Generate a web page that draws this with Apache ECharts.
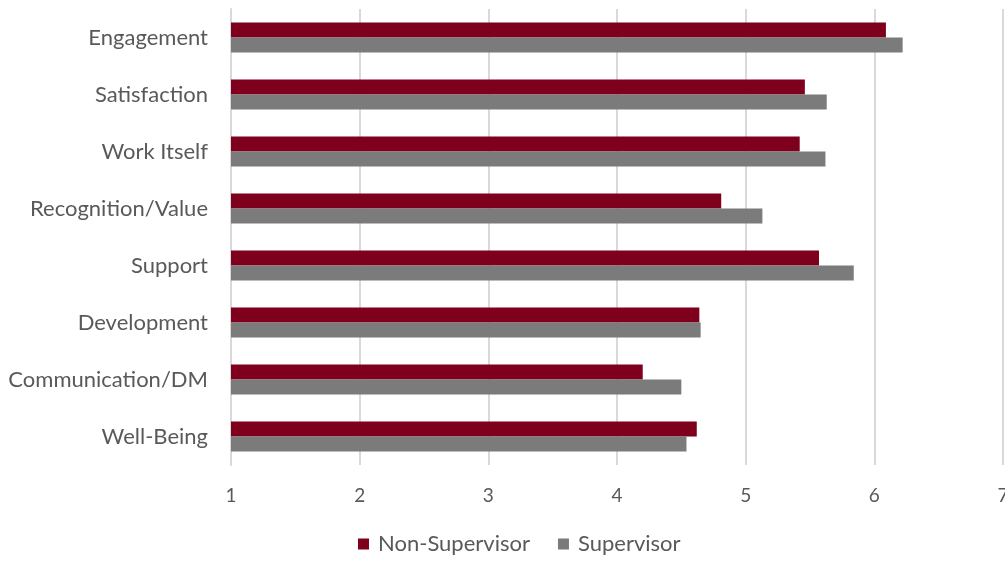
<!DOCTYPE html>
<html>
<head>
<meta charset="utf-8">
<script src="https://cdn.jsdelivr.net/npm/echarts@6/dist/echarts.min.js"></script>
<style>
  html, body { margin: 0; padding: 0; background: #fff; }
  #chart { width: 1005px; height: 562px; }
</style>
</head>
<body>
<div id="chart"></div>
<script>
var categories = ['Engagement', 'Satisfaction', 'Work Itself', 'Recognition/Value', 'Support', 'Development', 'Communication/DM', 'Well-Being'];
var nonSupervisor = [6.09, 5.46, 5.42, 4.81, 5.57, 4.64, 4.20, 4.62];
var supervisor = [6.22, 5.63, 5.62, 5.13, 5.84, 4.65, 4.50, 4.54];
var xTicks = [1, 2, 3, 4, 5, 6, 7];

var myChart = echarts.init(document.getElementById('chart'));

var font = 'Lato, "Open Sans", sans-serif';

var option = {
    animation: false,
    textStyle: { fontFamily: font },
    grid: {
        left: 231,
        right: 2,
        top: 9,
        bottom: 97,
        containLabel: false,
        outerBoundsMode: 'none'
    },
    legend: {
        bottom: 2,
        left: 353,
        itemWidth: 11,
        itemHeight: 11,
        itemGap: 28,
        icon: 'rect',
        textStyle: { fontSize: 22, color: '#595959', fontFamily: font, padding: [0, 0, 0, 4] },
        data: ['Non-Supervisor', 'Supervisor']
    },
    xAxis: {
        type: 'value',
        min: xTicks[0],
        max: xTicks[xTicks.length - 1],
        interval: 1,
        axisLine: { show: false },
        axisTick: { show: false },
        axisLabel: { fontSize: 19, color: '#595959', margin: 21, fontFamily: font },
        splitLine: { show: true, lineStyle: { color: '#d9d9d9', width: 2 } }
    },
    yAxis: {
        type: 'category',
        inverse: true,
        data: categories,
        axisLine: { show: true, lineStyle: { color: '#d9d9d9', width: 2 } },
        axisTick: { show: false },
        axisLabel: { fontSize: 22, color: '#595959', margin: 23, fontFamily: font }
    },
    series: [
        {
            name: 'Non-Supervisor',
            type: 'bar',
            data: nonSupervisor,
            itemStyle: { color: '#7f001c' },
            barGap: '0%',
            barCategoryGap: '47%'
        },
        {
            name: 'Supervisor',
            type: 'bar',
            data: supervisor,
            itemStyle: { color: '#7a7b7a' },
            barGap: '0%',
            barCategoryGap: '47%'
        }
    ]
};

myChart.setOption(option);
</script>
</body>
</html>
